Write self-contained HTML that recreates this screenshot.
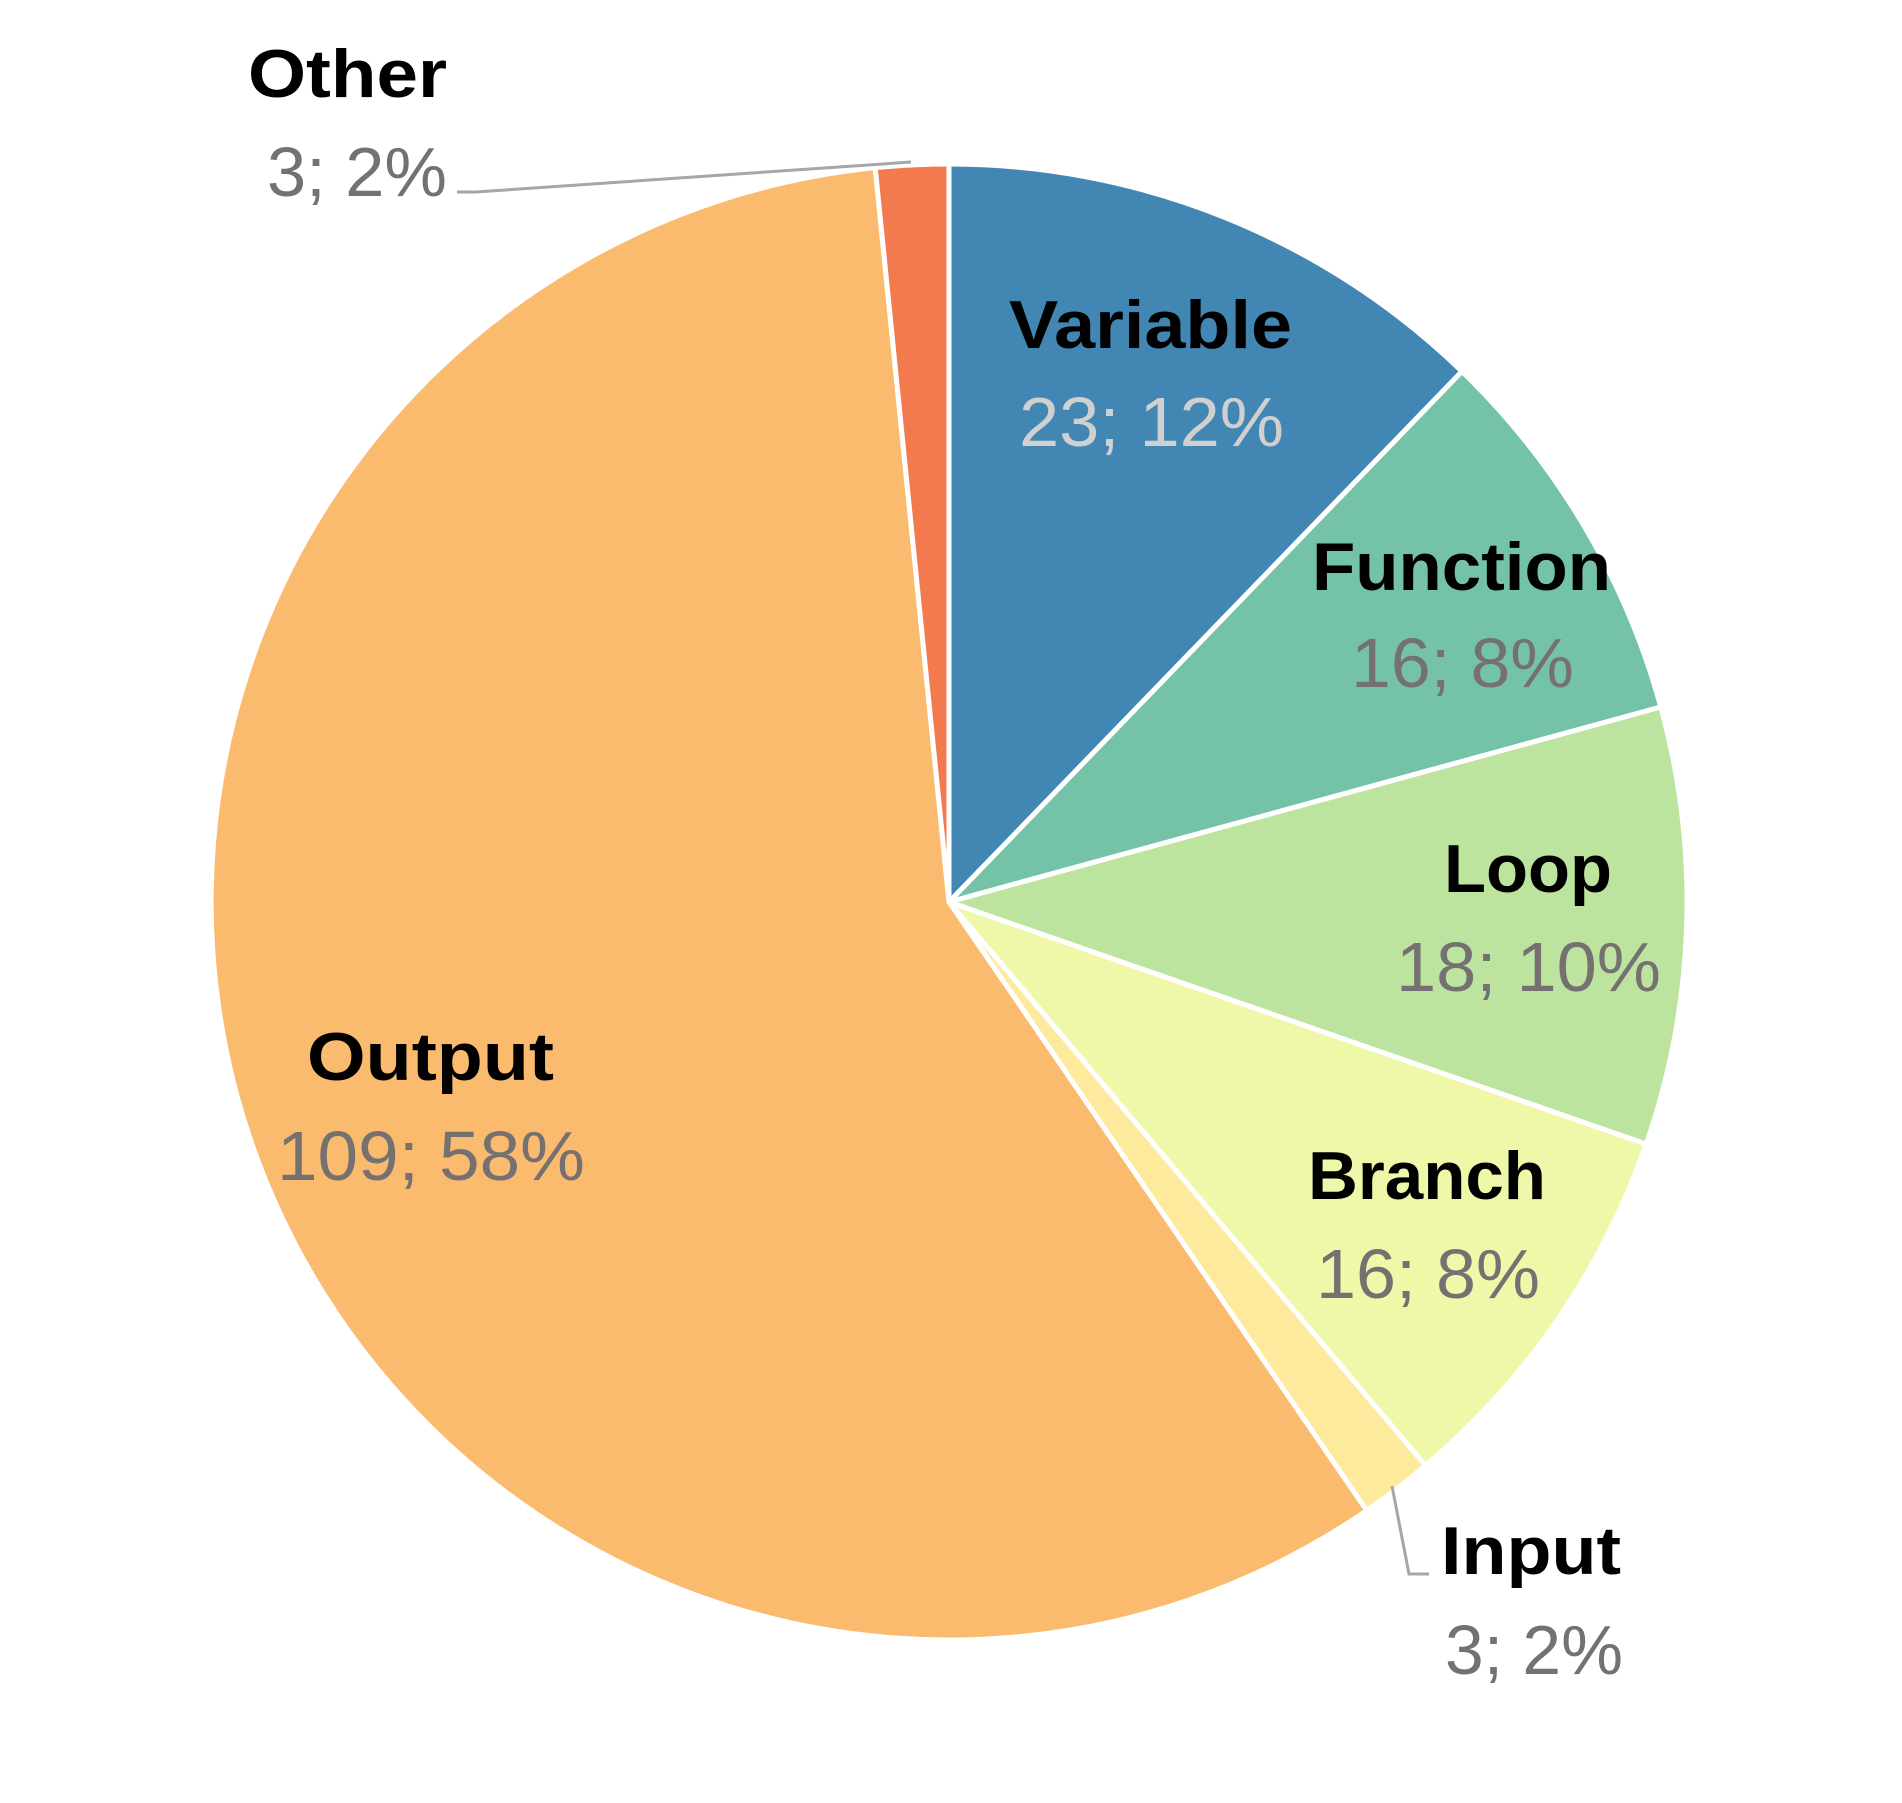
<!DOCTYPE html>
<html><head><meta charset="utf-8"><style>
html,body{margin:0;padding:0;background:#fff;}
svg{display:block;}
.b{font-family:"Liberation Sans",sans-serif;font-weight:bold;font-size:68px;fill:#000;}
.v{font-family:"Liberation Sans",sans-serif;font-size:70px;fill:#767171;}
</style></head><body>
<svg width="1902" height="1803" viewBox="0 0 1902 1803" xmlns="http://www.w3.org/2000/svg">
<g transform="translate(-6,-3)">
<g stroke="#fff" stroke-width="5" stroke-linejoin="round">
<path d="M955,905 L955,167 A738,738 0 0 1 1468,374.4 Z" fill="#4287B3"/>
<path d="M955,905 L1468,374.4 A738,738 0 0 1 1666.8,710 Z" fill="#74C3A8"/>
<path d="M955,905 L1666.8,710 A738,738 0 0 1 1652.2,1147.1 Z" fill="#BDE49E"/>
<path d="M955,905 L1652.2,1147.1 A738,738 0 0 1 1431.4,1468.6 Z" fill="#EFF8A8"/>
<path d="M955,905 L1431.4,1468.6 A738,738 0 0 1 1372.7,1513.5 Z" fill="#FDEA9C"/>
<path d="M955,905 L1372.7,1513.5 A738,738 0 1 1 881.2,170.7 Z" fill="#FBBB6E"/>
<path d="M955,905 L881.2,170.7 A738,738 0 0 1 955,167 Z" fill="#F37A4E"/>
</g>
<polyline points="917,165 482,195 463,195" fill="none" stroke="#a6a6a6" stroke-width="3"/>
<polyline points="1398,1489 1415,1577 1435,1577" fill="none" stroke="#a6a6a6" stroke-width="3"/>
<text class="b" x="254" y="100" textLength="199" lengthAdjust="spacingAndGlyphs">Other</text>
<text class="v" x="273" y="199" textLength="180" lengthAdjust="spacingAndGlyphs">3; 2%</text>
<text class="b" x="1015" y="351" textLength="283" lengthAdjust="spacingAndGlyphs">Variable</text>
<text class="v" x="1025" y="449" textLength="265" lengthAdjust="spacingAndGlyphs" style="fill:#d0d0d0">23; 12%</text>
<text class="b" x="1318" y="593" textLength="299" lengthAdjust="spacingAndGlyphs">Function</text>
<text class="v" x="1357" y="690" textLength="223" lengthAdjust="spacingAndGlyphs">16; 8%</text>
<text class="b" x="1450" y="895" textLength="168" lengthAdjust="spacingAndGlyphs">Loop</text>
<text class="v" x="1402" y="994" textLength="265" lengthAdjust="spacingAndGlyphs">18; 10%</text>
<text class="b" x="313" y="1083" textLength="247" lengthAdjust="spacingAndGlyphs">Output</text>
<text class="v" x="283" y="1183" textLength="308" lengthAdjust="spacingAndGlyphs">109; 58%</text>
<text class="b" x="1314" y="1202" textLength="238" lengthAdjust="spacingAndGlyphs">Branch</text>
<text class="v" x="1322" y="1301" textLength="224" lengthAdjust="spacingAndGlyphs">16; 8%</text>
<text class="b" x="1447" y="1577" textLength="180" lengthAdjust="spacingAndGlyphs">Input</text>
<text class="v" x="1451" y="1677" textLength="178" lengthAdjust="spacingAndGlyphs">3; 2%</text>
</g>
</svg>
</body></html>
